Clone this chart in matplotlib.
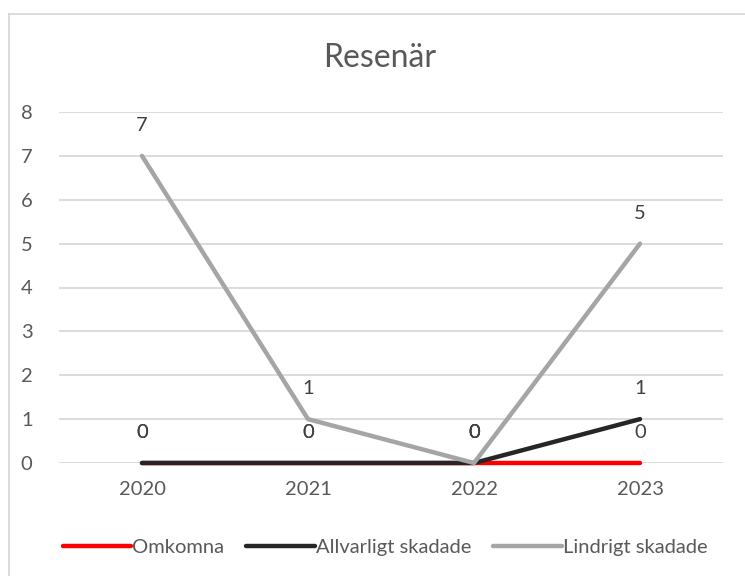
import matplotlib
matplotlib.use("Agg")
import matplotlib.pyplot as plt
from matplotlib.lines import Line2D

categories = ["2020", "2021", "2022", "2023"]
omkomna = [0, 0, 0, 0]
allvarligt = [0, 0, 0, 1]
lindrigt = [7, 1, 0, 5]
series_names = ["Omkomna", "Allvarligt skadade", "Lindrigt skadade"]
y_ticks = [0, 1, 2, 3, 4, 5, 6, 7, 8]
title = "Resenär"

colors = ["#FF0000", "#262626", "#A5A5A5"]
text_color = "#595959"
font = ["Lato", "DejaVu Sans"]
plt.rcParams["font.family"] = font

fig = plt.figure(figsize=(7.45, 5.76), dpi=100)
ax = fig.add_axes([59 / 745, 1 - 463 / 576, 664 / 745, 351 / 576])

x = list(range(len(categories)))
for vals, name, col in zip([omkomna, allvarligt, lindrigt], series_names, colors):
    ax.plot(x, vals, color=col, lw=3.2, solid_capstyle="round", solid_joinstyle="round",
            label=name, zorder=3, clip_on=False)
    for xi, v in zip(x, vals):
        ax.annotate(str(v), (xi, v), xytext=(0, 22), textcoords="offset points",
                    ha="center", va="center", fontsize=14.5, color="#404040", zorder=4)

ax.set_xlim(-0.5, len(categories) - 0.5)
ax.set_ylim(0, 8)
ax.set_yticks(y_ticks)
ax.set_xticks(x)
ax.set_xticklabels(categories)
ax.grid(axis="y", color="#D9D9D9", lw=1.3, zorder=0)
ax.set_axisbelow(True)
for s in ax.spines.values():
    s.set_visible(False)
ax.tick_params(length=0, labelsize=14.5, labelcolor=text_color)
ax.tick_params(axis="y", pad=19)
ax.tick_params(axis="x", pad=13)

fig.text(380 / 745, 1 - 58 / 576, title, ha="center", va="center", fontsize=23, color=text_color)

handles = [Line2D([0], [0], color=c, lw=3.2, solid_capstyle="round") for c in colors]
leg = fig.legend(handles, series_names, loc="center", bbox_to_anchor=(385 / 745, 1 - 547 / 576),
                 ncol=3, frameon=False, fontsize=14.5, handlelength=3.4, handletextpad=0.05,
                 columnspacing=1.1, labelcolor=text_color)

# chart border (left and top visible)
fig.add_artist(Line2D([8.5 / 745, 8.5 / 745], [0, 1 - 13.5 / 576], transform=fig.transFigure, color="#D9D9D9", lw=1.3))
fig.add_artist(Line2D([8.5 / 745, 1], [1 - 13.5 / 576, 1 - 13.5 / 576], transform=fig.transFigure, color="#D9D9D9", lw=1.3))

fig.savefig("out.png", dpi=100)
